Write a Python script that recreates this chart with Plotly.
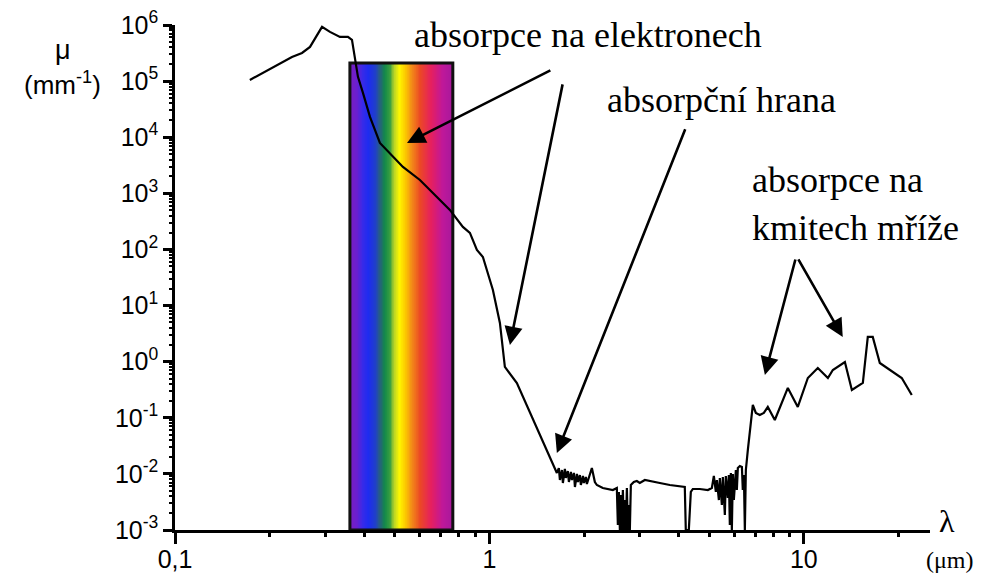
import math
import plotly.graph_objects as go

# ---------------- data ----------------
wavelength_um = [
    0.173, 0.205, 0.2355, 0.2535, 0.2688, 0.2935, 0.3111, 0.3346, 0.3549, 0.3655,
    0.3737, 0.3819, 0.3961, 0.417, 0.4485, 0.4826, 0.5309, 0.6012, 0.681, 0.7488,
    0.8235, 0.867, 0.9126, 0.9535, 1.026, 1.08, 1.12, 1.223, 1.639,
    1.663, 1.676, 1.701, 1.713, 1.738, 1.751, 1.776, 1.790, 1.816, 1.830,
    1.857, 1.871, 1.898, 1.912, 1.940, 1.954, 1.984, 1.998, 2.027, 2.042,
    2.072, 2.087, 2.118, 2.165, 2.197, 2.295, 2.381, 2.470,
    2.543, 2.562, 2.581, 2.600, 2.619, 2.638, 2.658, 2.677, 2.697, 2.717,
    2.737, 2.757, 2.777, 2.797, 2.818, 2.880, 2.944, 3.009, 3.122, 3.311,
    3.484, 3.749, 4.123, 4.183, 4.214, 4.308, 4.372, 4.437, 4.670, 4.953,
    5.100, 5.175, 5.252, 5.290, 5.369, 5.407, 5.488, 5.527, 5.609, 5.649,
    5.733, 5.775, 5.818, 5.861, 5.904, 5.947, 5.991, 6.080, 6.124, 6.169,
    6.261, 6.355, 6.397, 6.449, 6.494, 6.542, 6.638,
    6.884, 7.038, 7.246, 7.463, 7.683, 8.088, 8.897, 9.570, 10.30, 11.08,
    11.93, 12.37, 13.51, 14.22, 15.41, 15.98, 16.57, 17.45, 20.49, 22.05,
]
mu_per_mm = [
    1.05e5, 1.79e5, 2.7e5, 3.18e5, 4.07e5, 9.25e5, 7.53e5, 6.14e5, 6.14e5, 5.42e5,
    2.59e5, 1.19e5, 6.16e4, 2.3e4, 7.91e3, 5.25e3, 2.96e3, 1.73e3, 863, 506,
    252, 197, 98, 73.5, 19, 4.9, 0.805, 0.417, 0.0104,
    0.0127, 0.00778, 0.0117, 0.00688, 0.01223, 0.00845, 0.01126, 0.00717, 0.0108, 0.00778,
    0.0104, 0.00584, 0.00996, 0.00717, 0.00955, 0.00634, 0.00917, 0.00688, 0.0088, 0.00661,
    0.00845, 0.00955, 0.01274, 0.00717, 0.00634, 0.00561, 0.00538, 0.00516,
    0.00561, 0.00123, 0.00476, 0.001, 0.00421, 0.001, 0.00516, 0.001, 0.00342, 0.001,
    0.00561, 0.001, 0.00279, 0.001, 0.00634, 0.00717, 0.00747, 0.00688, 0.00778, 0.00717,
    0.00688, 0.00634, 0.00584, 0.00584, 0.001, 0.001, 0.00476, 0.00538, 0.00538, 0.00516,
    0.00561, 0.00917, 0.00476, 0.00778, 0.00342, 0.00845, 0.00279, 0.0088, 0.00185, 0.00917,
    0.00372, 0.00955, 0.00123, 0.0104, 0.001, 0.00996, 0.00342, 0.01174, 0.00516, 0.01274,
    0.01383, 0.01327, 0.00516, 0.00955, 0.001, 0.01174, 0.0267,
    0.169, 0.1218, 0.1122, 0.1218, 0.1558, 0.0914, 0.34, 0.1558, 0.512, 0.772,
    0.512, 0.711, 0.988, 0.313, 0.417, 2.755, 2.755, 0.948, 0.512, 0.255,
]

# visible-spectrum band
spectrum_range_um = [0.36, 0.765]
spectrum_mu_range = [1e-3, 2.1e5]
spectrum_stops = [0.0, 0.07, 0.12, 0.18, 0.25, 0.29, 0.34, 0.39, 0.43, 0.48,
                  0.54, 0.60, 0.68, 0.79, 0.9, 1.0]
spectrum_colors = ["#7a1ec0", "#6a1fd0", "#3a2ae8", "#1e2cf0", "#2040c8", "#28607e",
                   "#138a4a", "#3ca040", "#b8d428", "#fff800", "#fcc800", "#f48c18",
                   "#ec4a24", "#e62060", "#c0189a", "#a8189c"]

x_range_um = [0.1, 25.2]
y_range_mu = [1e-3, 1e6]
x_tick_vals = [0.1, 1, 10]
x_tick_text = ["0,1", "1", "10"]
y_tick_vals = [1e-3, 1e-2, 1e-1, 1, 1e1, 1e2, 1e3, 1e4, 1e5, 1e6]
y_tick_text = ["10<sup>-3</sup>", "10<sup>-2</sup>", "10<sup>-1</sup>", "10<sup>0</sup>",
               "10<sup>1</sup>", "10<sup>2</sup>", "10<sup>3</sup>", "10<sup>4</sup>",
               "10<sup>5</sup>", "10<sup>6</sup>"]
minor_digits = [2, 3, 4, 5, 6, 7, 8, 9]
x_minor_vals = [m * 10.0 ** d for d in (-1, 0) for m in minor_digits] + [20]
y_minor_vals = [m * 10.0 ** d for d in range(-3, 6) for m in minor_digits]

# arrows: (tip λ, tip μ, tail λ, tail μ)
arrows = [
    (0.547, 7.9e3, 1.58, 1.6e5),
    (1.162, 1.99, 1.713, 9.3e4),
    (1.639, 0.0236, 4.214, 1.47e4),
    (7.52, 0.579, 9.43, 70.5),
    (13.3, 2.75, 9.55, 70.5),
]

# ---------------- figure ----------------
fig = go.Figure()

n_cols = 160
x0, x1 = spectrum_range_um
edges = [x0 * (x1 / x0) ** (i / n_cols) for i in range(n_cols + 1)]
zrow = [(i + 0.5) / n_cols for i in range(n_cols)]
colorscale = [[s, c] for s, c in zip(spectrum_stops, spectrum_colors)]
fig.add_trace(go.Heatmap(
    x=edges, y=spectrum_mu_range, z=[zrow], zmin=0, zmax=1,
    colorscale=colorscale, showscale=False, hoverinfo="skip",
))
# border of band
fig.add_trace(go.Scatter(
    x=[x0, x1, x1, x0, x0],
    y=[spectrum_mu_range[0], spectrum_mu_range[0], spectrum_mu_range[1],
       spectrum_mu_range[1], spectrum_mu_range[0]],
    mode="lines", line=dict(color="#111111", width=3), hoverinfo="skip",
    showlegend=False,
))
fig.add_trace(go.Scatter(
    x=wavelength_um, y=mu_per_mm, mode="lines",
    line=dict(color="black", width=2.2), showlegend=False,
))
# invisible trace that carries the overlaid minor-tick axes
fig.add_trace(go.Scatter(
    x=x_range_um, y=y_range_mu, xaxis="x2", yaxis="y2", mode="markers",
    marker=dict(opacity=0), hoverinfo="skip", showlegend=False,
))

annotations = []
for tx, ty, sx, sy in arrows:
    annotations.append(dict(
        x=math.log10(tx), y=math.log10(ty), ax=math.log10(sx), ay=math.log10(sy),
        xref="x", yref="y", axref="x", ayref="y", text="", showarrow=True,
        arrowhead=2, arrowsize=1.4, arrowwidth=2.6, arrowcolor="black", standoff=0,
    ))

serif = "Liberation Serif, Times New Roman, serif"
sans = "Liberation Sans, Arial, sans-serif"


def px_x(p):
    return (p - 175) / 755.0


def px_y(p):
    return (530 - p) / 505.0


text_items = [
    ("absorpce na elektronech", 588, 35, "center", serif, 36),
    ("absorpční hrana", 721, 100, "center", serif, 36),
    ("absorpce na", 750, 180, "left", serif, 36),
    ("kmitech mříže", 750, 228, "left", serif, 36),
    ("μ", 63, 50, "center", sans, 27),
    ("(mm<sup>-1</sup>)", 63, 83, "center", sans, 26),
    ("λ", 947, 521, "center", serif, 32),
    ("(μm)", 950, 560, "center", serif, 24),
]
for t, xp, yp, anchor, fam, size in text_items:
    annotations.append(dict(
        x=px_x(xp), y=px_y(yp), xref="paper", yref="paper", text=t,
        showarrow=False, xanchor=anchor, yanchor="middle",
        font=dict(family=fam, size=size, color="black"),
    ))

xr = [math.log10(v) for v in x_range_um]
yr = [math.log10(v) for v in y_range_mu]

# page body has an 8px margin; figure sized so the plot area lands where the reference has it
fig.update_layout(
    width=974, height=566,
    margin=dict(l=167, r=52, t=17, b=44, pad=0, autoexpand=False),
    paper_bgcolor="white", plot_bgcolor="white",
    showlegend=False,
    annotations=annotations,
    xaxis=dict(
        type="log", range=xr, automargin=False,
        tickmode="array", tickvals=x_tick_vals, ticktext=x_tick_text,
        ticks="outside", ticklen=11, tickwidth=2.5, tickcolor="black",
        ticklabeloverflow="allow", ticklabelstandoff=-6,
        showline=True, linewidth=2.5, linecolor="black", showgrid=False,
        zeroline=False,
        tickfont=dict(family=sans, size=25, color="black"),
    ),
    yaxis=dict(
        type="log", range=yr, automargin=False,
        tickmode="array", tickvals=y_tick_vals, ticktext=y_tick_text,
        ticks="outside", ticklen=9, tickwidth=2.5, tickcolor="black",
        ticklabeloverflow="allow",
        showline=True, linewidth=2.5, linecolor="black", showgrid=False,
        zeroline=False,
        tickfont=dict(family=sans, size=25, color="black"),
    ),
    xaxis2=dict(
        type="log", range=xr, overlaying="x", anchor="y", side="bottom",
        automargin=False, tickmode="array", tickvals=x_minor_vals,
        showticklabels=False, ticks="outside", ticklen=6, tickwidth=2.5,
        tickcolor="black", showline=False, showgrid=False, zeroline=False,
    ),
    yaxis2=dict(
        type="log", range=yr, overlaying="y", anchor="x", side="left",
        automargin=False, tickmode="array", tickvals=y_minor_vals,
        showticklabels=False, ticks="outside", ticklen=5, tickwidth=2,
        tickcolor="black", showline=False, showgrid=False, zeroline=False,
    ),
)

fig.write_html("out.html")
